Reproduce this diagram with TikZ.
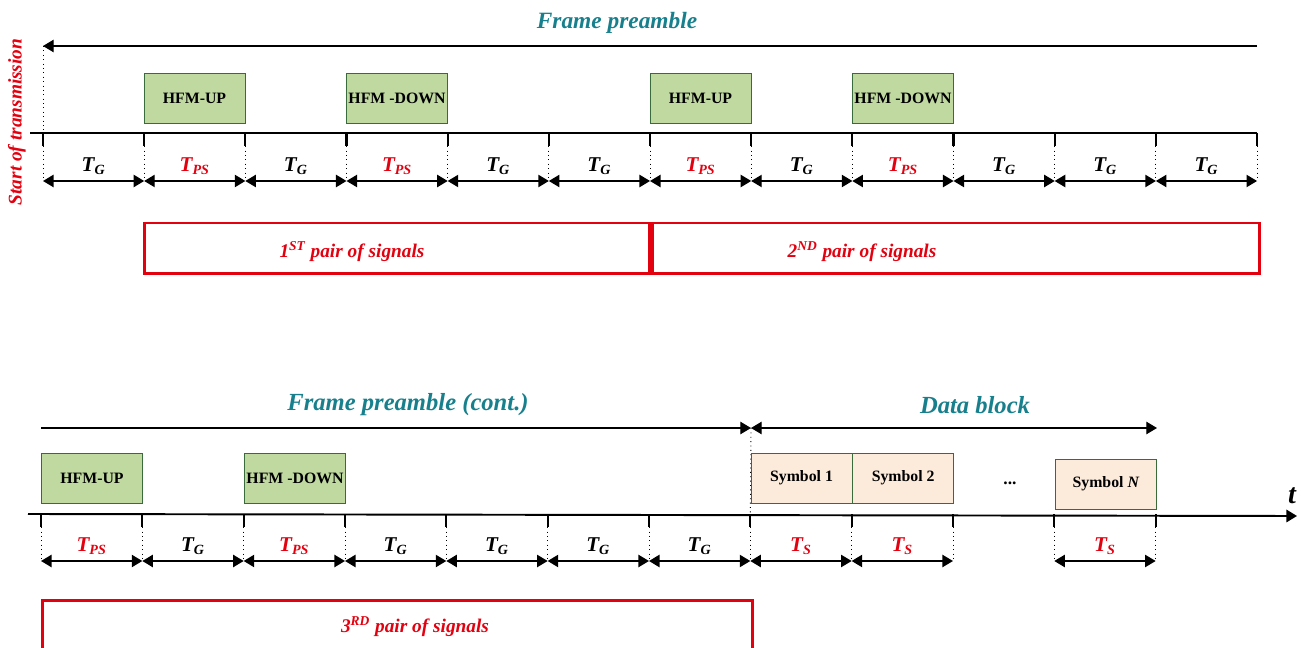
\documentclass[tikz,border=0pt]{standalone}
\usepackage{xcolor}
\usepackage{fontspec}
\setmainfont{Liberation Serif}
\usetikzlibrary{positioning,arrows.meta}
\definecolor{FrameTeal}{HTML}{17808C}
\definecolor{SigRed}{HTML}{E3000F}
\definecolor{HfmGreen}{HTML}{C0D9A0}
\definecolor{HfmEdge}{HTML}{3A6B3A}
\definecolor{SymPeach}{HTML}{FCEADB}
\newcommand{\TG}{\textcolor{black}{\textbf{\textit{T\textsubscript{G}}}}}
\newcommand{\TPS}{\textcolor{SigRed}{\textbf{\textit{T\textsubscript{PS}}}}}
\newcommand{\TS}{\textcolor{SigRed}{\textbf{\textit{T\textsubscript{S}}}}}

\begin{document}
\begin{tikzpicture}[x=0.02cm, y=-0.02cm, >={Triangle[length=6pt,width=7pt]},
    every node/.style={align=center},
    hfmbox/.style={draw=HfmEdge, fill=HfmGreen, minimum width=2.02cm, minimum height=1cm, inner sep=0pt, font=\fontsize{9}{10}\selectfont\bfseries},
    symbox/.style={draw=HfmEdge, fill=SymPeach, minimum width=2.02cm, minimum height=1cm, inner sep=0pt, font=\fontsize{9}{10}\selectfont\bfseries},
    pairbox/.style={draw=SigRed, line width=1.7pt, inner sep=0pt, minimum height=1.02cm},
    pairtext/.style={text=SigRed, font=\fontsize{11}{13}\selectfont\bfseries\itshape},
    headtext/.style={text=FrameTeal, font=\fontsize{14}{16}\selectfont\bfseries\itshape},
    dimline/.style={<->, line width=0.8pt},
    tickline/.style={line width=1.2pt},
    guide/.style={dotted, line width=0.5pt},
    dimlabel/.style={midway, above=0pt, font=\fontsize{12}{14}\selectfont}]
  \clip (0,0) rectangle (1302,648);

  % Top row: time marks
  \foreach \i in {0,...,12} {
    \coordinate (t\i) at ({43+101.17*\i},133);
    \coordinate (a\i) at ({43+101.17*\i},181);
    \draw[guide] (t\i) -- (a\i);
    \draw[tickline] (t\i) -- ++(0,13);
  }
  \coordinate (axisL) at (30,133);
  \draw[line width=1.1pt] (axisL) -- (t12);
  \foreach \i/\j/\lab in {0/1/\TG, 1/2/\TPS, 2/3/\TG, 3/4/\TPS, 4/5/\TG, 5/6/\TG,
      6/7/\TPS, 7/8/\TG, 8/9/\TPS, 9/10/\TG, 10/11/\TG, 11/12/\TG}
    \draw[dimline] (a\i) -- node[dimlabel] {\lab} (a\j);

  % Frame preamble
  \coordinate (fpL) at (43,46);
  \coordinate (fpR) at (1257,46);
  \draw[->, line width=0.6pt] (fpR) -- (fpL);
  \draw[guide] (fpL) -- (t0);
  \node[headtext, font=\fontsize{13.3}{16}\selectfont\bfseries\itshape] (fp) at (617,23) {Frame preamble};
  \node[rotate=90, text=SigRed, font=\fontsize{11}{13}\selectfont\bfseries\itshape] (sot) at (17,122) {Start of transmission};

  % Signals
  \node[hfmbox] (up1) at (194.5,98) {HFM-UP};
  \node[hfmbox] (down1) at (397,98) {HFM -DOWN};
  \node[hfmbox] (up2) at (700.5,98) {HFM-UP};
  \node[hfmbox] (down2) at (903,98) {HFM -DOWN};

  % Pairs
  \node[pairbox, minimum width=10.12cm] (pair1) at (397,248.5) {};
  \node[pairbox, minimum width=12.14cm, anchor=west] (pair2) at (pair1.east) {};
  \node[pairtext] (pair1t) at (352,252) {1\textsuperscript{ST} pair of signals};
  \node[pairtext] (pair2t) at (862,252) {2\textsuperscript{ND} pair of signals};

  % Bottom row: time marks
  \foreach \i in {0,...,11} {
    \coordinate (s\i) at ({41+101.33*\i},514);
    \coordinate (b\i) at ({41+101.33*\i},561);
    \draw[guide] (s\i) -- (b\i);
    \draw[tickline] (s\i) -- ++(0,13);
  }
  \coordinate (baxL) at (28,514);
  \coordinate (baxR) at (1297,516);
  \draw[->, line width=1.1pt] (baxL) -- (baxR);
  \node[font=\fontsize{16}{18}\selectfont\bfseries\itshape] (tt) at (1292,496) {t};
  \foreach \i/\j/\lab in {0/1/\TPS, 1/2/\TG, 2/3/\TPS, 3/4/\TG, 4/5/\TG, 5/6/\TG,
      6/7/\TG, 7/8/\TS, 8/9/\TS, 10/11/\TS}
    \draw[dimline] (b\i) -- node[dimlabel] {\lab} (b\j);

  % Frame preamble (cont.) and data block
  \coordinate (fcL) at (41,428);
  \coordinate (fcR) at (751,428);
  \coordinate (dbR) at (1157,428);
  \draw[->, line width=0.6pt] (fcL) -- (fcR);
  \draw[<->, line width=0.6pt] (fcR) -- (dbR);
  \draw[guide] (fcR) -- (s7);
  \node[headtext] (fc) at (408,405) {Frame preamble (cont.)};
  \node[headtext] (db) at (975,405) {Data block};

  \node[hfmbox] (up3) at (92,478) {HFM-UP};
  \node[hfmbox] (down3) at (295,478) {HFM -DOWN};
  \node[symbox] (sym1) at (801.5,478) {Symbol 1};
  \node[symbox, right=0pt of sym1] (sym2) {Symbol 2};
  \node[font=\bfseries] (dots) at (1010,483) {...};
  \node[symbox] (symN) at (1106,484) {Symbol \textit{N}};

  \node[pairbox, minimum width=14.2cm, minimum height=1.3cm, anchor=north west] (pair3) at (41,599) {};
  \node[pairtext] (pair3t) at (415,627) {3\textsuperscript{RD} pair of signals};
\end{tikzpicture}
\end{document}
